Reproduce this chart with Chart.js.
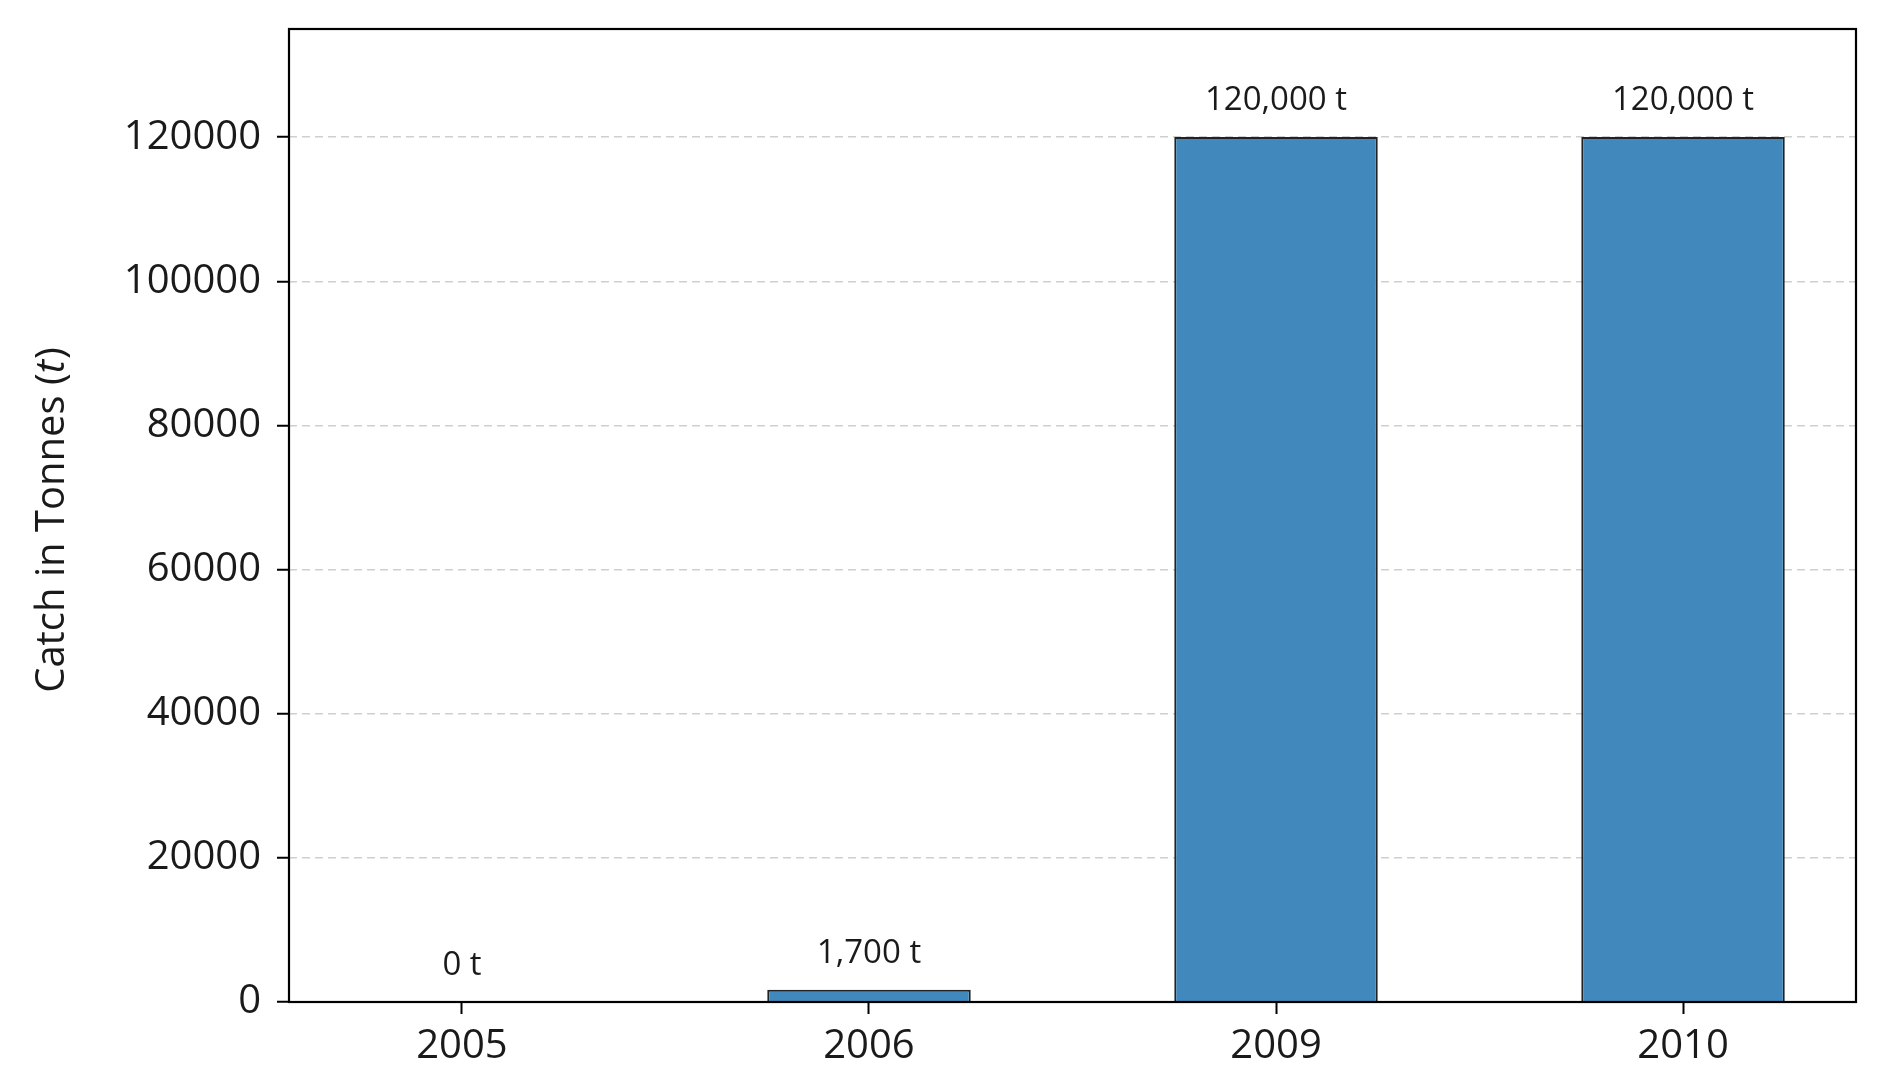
<!DOCTYPE html>
<html>
<head>
<meta charset="utf-8">
<script src="https://cdn.jsdelivr.net/npm/chart.js@4.4.1/dist/chart.umd.min.js"></script>
<style>
html,body{margin:0;padding:0;background:#fff;}
#wrap{width:1880px;height:1084px;}
</style>
</head>
<body>
<div id="wrap"><canvas id="c" width="1880" height="1084"></canvas></div>
<script>
const categories = ["2005", "2006", "2009", "2010"];
const catchTonnes = [0, 1700, 120000, 120000];
const yTickValues = [0, 20000, 40000, 60000, 80000, 100000, 120000];
const yLabelMain = "Catch in Tonnes (";
const yLabelItalic = "t";
const yLabelEnd = ")";

const FONT = "'Open Sans', sans-serif";

const framePlugin = {
  id: 'frame',
  afterDraw(chart) {
    const {ctx, chartArea: a} = chart;
    ctx.save();
    ctx.strokeStyle = '#000';
    ctx.lineWidth = 2.2;
    ctx.strokeRect(a.left, a.top, a.right - a.left, a.bottom - a.top);
    ctx.translate(53, (a.top + a.bottom) / 2 + 5);
    ctx.rotate(-Math.PI / 2);
    ctx.fillStyle = '#1a1a1a';
    ctx.textBaseline = 'middle';
    const f1 = "40px " + FONT, f2 = "italic 40px " + FONT;
    ctx.font = f1; const w1 = ctx.measureText(yLabelMain).width; const w3 = ctx.measureText(yLabelEnd).width;
    ctx.font = f2; const w2 = ctx.measureText(yLabelItalic).width;
    let x = -(w1 + w2 + w3) / 2;
    ctx.textAlign = 'left';
    ctx.font = f1; ctx.fillText(yLabelMain, x, 0); x += w1;
    ctx.font = f2; ctx.fillText(yLabelItalic, x, 0); x += w2 + 1;
    ctx.font = f1; ctx.fillText(yLabelEnd, x, 0);
    ctx.restore();
  },
  afterDatasetsDraw(chart) {
    const {ctx} = chart;
    const meta = chart.getDatasetMeta(0);
    ctx.save();
    ctx.fillStyle = '#1a1a1a';
    ctx.font = "33px " + FONT;
    ctx.textAlign = 'center';
    ctx.textBaseline = 'alphabetic';
    meta.data.forEach((bar, i) => {
      const v = catchTonnes[i];
      ctx.fillText(v.toLocaleString('en-US') + ' t', bar.x, bar.y - 27);
    });
    ctx.restore();
  }
};

new Chart(document.getElementById('c'), {
  type: 'bar',
  data: {
    datasets: [{
      data: catchTonnes.map((v, i) => ({x: i, y: v})),
      backgroundColor: '#4189bd',
      borderColor: '#1f2326',
      borderWidth: 2,
      categoryPercentage: 1.0,
      barPercentage: 0.5
    }]
  },
  options: {
    responsive: false,
    animation: false,
    events: [],
    layout: {padding: {top: 29, right: 24, left: 0, bottom: 0}},
    plugins: {legend: {display: false}, tooltip: {enabled: false}},
    scales: {
      x: {
        type: 'linear',
        min: -0.425,
        max: 3.425,
        offset: false,
        afterBuildTicks(scale) { scale.ticks = categories.map((c, i) => ({value: i})); },
        afterFit(scale) { scale.height = 82; scale.paddingLeft = 0; scale.paddingRight = 0; },
        ticks: {
          callback: (v) => categories[v],
          font: {family: FONT, size: 40},
          color: '#1a1a1a',
          padding: 9,
          maxRotation: 0,
          autoSkip: false
        },
        grid: {offset: false, drawOnChartArea: false, drawTicks: true, tickLength: 12, tickWidth: 2, tickColor: '#000'},
        border: {display: false}
      },
      y: {
        type: 'linear',
        min: 0,
        max: 135000,
        afterBuildTicks(scale) { scale.ticks = yTickValues.map(v => ({value: v})); },
        afterFit(scale) { scale.width = 289; scale.paddingTop = 0; scale.paddingBottom = 0; },
        ticks: {
          font: {family: FONT, size: 40},
          color: '#1a1a1a',
          padding: 16,
          callback: (v) => String(v)
        },
        grid: {
          color: '#cfcfcf',
          lineWidth: 1.5,
          tickLength: 12,
          tickWidth: 2,
          tickColor: '#000',
          tickBorderDash: []
        },
        border: {display: false, dash: [8, 5]}
      }
    }
  },
  plugins: [framePlugin]
});
</script>
</body>
</html>
